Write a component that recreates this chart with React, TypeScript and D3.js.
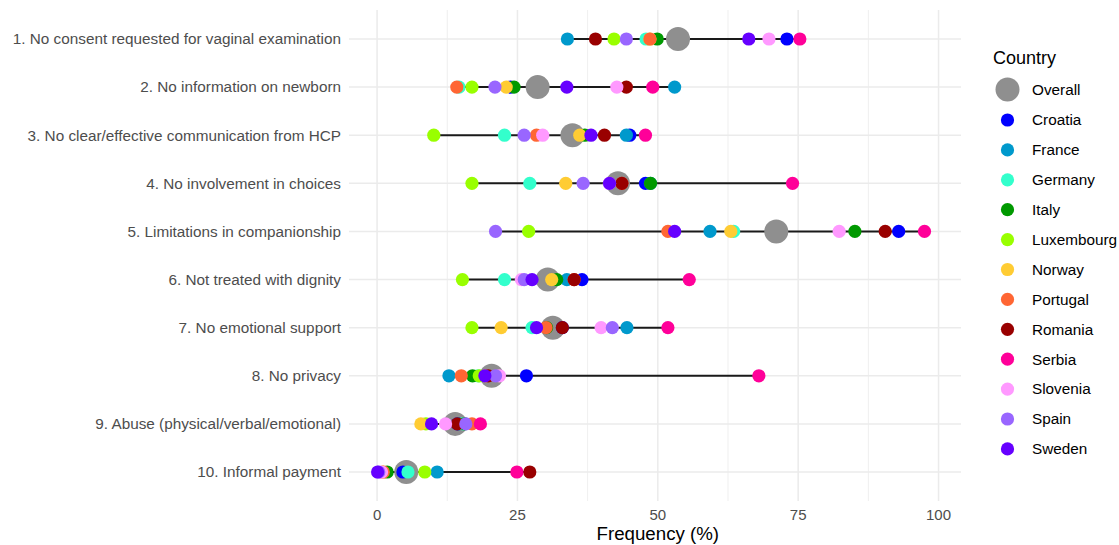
import * as d3 from "d3";

const W = 1119;
const H = 545;

const ITEMS = [
  "1. No consent requested for vaginal examination",
  "2. No information on newborn",
  "3. No clear/effective communication from HCP",
  "4. No involvement in choices",
  "5. Limitations in companionship",
  "6. Not treated with dignity",
  "7. No emotional support",
  "8. No privacy",
  "9. Abuse (physical/verbal/emotional)",
  "10. Informal payment",
];

const COUNTRIES = [
  "Croatia", "France", "Germany", "Italy", "Luxembourg", "Norway",
  "Portugal", "Romania", "Serbia", "Slovenia", "Spain", "Sweden",
];

const COUNTRY_COLORS = [
  "#0000ff", "#0099cc", "#33ffcc", "#009900", "#99ff00", "#ffcc33",
  "#ff6633", "#990000", "#ff0099", "#ff99ff", "#9966ff", "#6600ff",
];

const OVERALL = [53.6, 28.6, 34.8, 42.9, 71.1, 30.4, 31.3, 20.4, 13.9, 5.2];

// one array per country, in item order 1..10
const CROATIA = [73.0, 23.8, 45.0, 47.8, 92.9, 36.5, 33.0, 26.6, 14.3, 4.6];
const FRANCE = [33.9, 53.0, 44.4, 48.7, 59.3, 33.8, 44.5, 12.8, 14.5, 10.7];
const GERMANY = [47.9, 14.6, 22.7, 27.2, 63.5, 22.7, 27.6, 18.0, 15.3, 5.5];
const ITALY = [49.9, 24.4, 37.0, 48.7, 85.1, 32.0, 30.2, 17.0, 15.6, 1.8];
const LUXEMBOURG = [42.2, 16.9, 10.1, 16.9, 27.0, 15.2, 16.9, 18.2, 8.7, 8.5];
const NORWAY = [48.6, 23.0, 36.1, 33.6, 63.0, 31.1, 22.1, 19.3, 7.8, 1.0];
const PORTUGAL = [48.6, 14.2, 28.4, 43.6, 51.8, 35.1, 30.1, 15.0, 16.9, 1.1];
const ROMANIA = [38.9, 44.4, 40.5, 43.6, 90.5, 35.1, 33.0, 19.8, 14.3, 27.2];
const SERBIA = [75.3, 49.1, 47.8, 74.0, 97.5, 55.6, 51.8, 68.0, 18.4, 24.9];
const SLOVENIA = [69.8, 42.7, 29.5, 41.4, 82.3, 25.7, 39.9, 21.8, 12.2, 0.8];
const SPAIN = [44.4, 21.0, 26.2, 36.7, 21.1, 26.2, 41.9, 21.1, 15.8, 0.3];
const SWEDEN = [66.2, 33.8, 38.1, 41.4, 53.0, 27.6, 28.4, 19.2, 9.7, 0.1];

const SERIES = [
  CROATIA, FRANCE, GERMANY, ITALY, LUXEMBOURG, NORWAY,
  PORTUGAL, ROMANIA, SERBIA, SLOVENIA, SPAIN, SWEDEN,
];

const X_TICKS = [0, 25, 50, 75, 100];

const FONT = "'Liberation Sans', Arial, sans-serif";

export default function App() {
  const x = d3.scaleLinear().domain([-5, 104]).range([349, 961]);
  const y = d3
    .scalePoint<string>()
    .domain(ITEMS)
    .range([39, 472]);

  const top = 10;
  const bottom = 501;
  const minor = d3.range(12.5, 100, 25);

  return (
    <svg
      width={W}
      height={H}
      style={{ position: "absolute", left: 0, top: 0, background: "#fff" }}
      fontFamily={FONT}
    >
      {/* grid */}
      {minor.map((v) => (
        <line key={"mn" + v} x1={x(v)} x2={x(v)} y1={top} y2={bottom} stroke="#ebebeb" strokeWidth={0.8} />
      ))}
      {X_TICKS.map((v) => (
        <line key={"mj" + v} x1={x(v)} x2={x(v)} y1={top} y2={bottom} stroke="#ebebeb" strokeWidth={1.5} />
      ))}
      {ITEMS.map((it) => (
        <line key={"h" + it} x1={349} x2={961} y1={y(it)} y2={y(it)} stroke="#ebebeb" strokeWidth={1.5} />
      ))}

      {/* ranges */}
      {ITEMS.map((it, i) => {
        const vals = SERIES.map((s) => s[i]);
        const [lo, hi] = d3.extent(vals) as [number, number];
        return (
          <line key={"seg" + it} x1={x(lo)} x2={x(hi)} y1={y(it)} y2={y(it)} stroke="#1a1a1a" strokeWidth={2} />
        );
      })}

      {/* overall */}
      {ITEMS.map((it, i) => (
        <circle key={"o" + it} cx={x(OVERALL[i])} cy={y(it)} r={12} fill="#8f8f8f" />
      ))}

      {/* countries */}
      {SERIES.map((s, ci) =>
        s.map((v, i) => (
          <circle key={COUNTRIES[ci] + i} cx={x(v)} cy={y(ITEMS[i])} r={6.6} fill={COUNTRY_COLORS[ci]} />
        ))
      )}

      {/* y labels */}
      {ITEMS.map((it) => (
        <text key={"yl" + it} x={341} y={y(it)} dy="0.35em" textAnchor="end" fontSize={15.3} fill="#4d4d4d">
          {it}
        </text>
      ))}

      {/* x ticks */}
      {X_TICKS.map((v) => (
        <text key={"xt" + v} x={x(v)} y={520} textAnchor="middle" fontSize={15} fill="#4d4d4d">
          {v}
        </text>
      ))}
      <text x={x(50)} y={540} textAnchor="middle" fontSize={18.7} fill="#000">
        Frequency (%)
      </text>

      {/* legend */}
      <text x={993} y={64} fontSize={18} fill="#000">
        Country
      </text>
      <circle cx={1007.5} cy={89.5} r={12} fill="#8f8f8f" />
      <text x={1032} y={89.5} dy="0.35em" fontSize={15.3} fill="#000">
        Overall
      </text>
      {COUNTRIES.map((c, i) => (
        <g key={"lg" + c} transform={`translate(0, ${120 + i * 29.9})`}>
          <circle cx={1007.5} cy={0} r={6.6} fill={COUNTRY_COLORS[i]} />
          <text x={1032} y={0} dy="0.35em" fontSize={15.3} fill="#000">
            {c}
          </text>
        </g>
      ))}
    </svg>
  );
}
